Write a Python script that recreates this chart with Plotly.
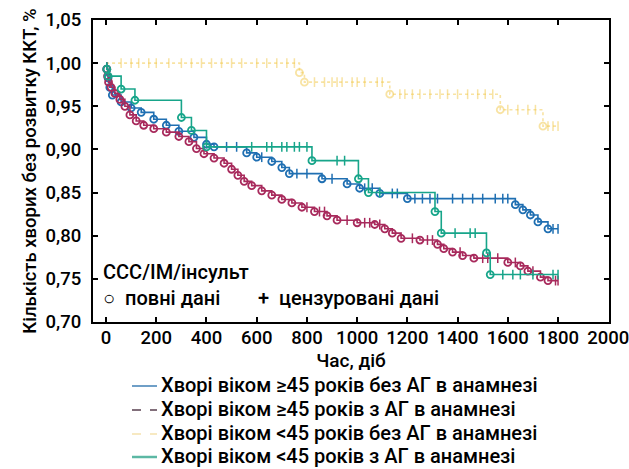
import plotly.graph_objects as go

# ---------------- data ----------------
# Kaplan–Meier estimates: event times (days) and survival after each event,
# plus censoring times, for four patient groups.
grp_names = [
    "Хворі віком ≥45 років без АГ в анамнезі",
    "Хворі віком ≥45 років з АГ в анамнезі",
    "Хворі віком <45 років без АГ в анамнезі",
    "Хворі віком <45 років з АГ в анамнезі",
]

blue_evt_t = [3, 8, 15, 25, 60, 100, 140, 190, 240, 290, 350, 400, 430, 560, 600,
              660, 700, 730, 860, 960, 1010, 1090, 1200, 1630, 1660, 1690, 1720, 1760]
blue_evt_s = [0.993, 0.983, 0.972, 0.963, 0.955, 0.948, 0.943, 0.935, 0.928, 0.921,
              0.914, 0.906, 0.903, 0.896, 0.891, 0.886, 0.879, 0.872, 0.866, 0.860,
              0.855, 0.849, 0.843, 0.836, 0.830, 0.824, 0.816, 0.808]
blue_cens_t = [480, 520, 620, 760, 800, 900, 1030, 1060, 1140, 1160, 1230, 1260, 1290,
               1320, 1380, 1420, 1460, 1500, 1550, 1580, 1600, 1780, 1800]

red_evt_t = [3, 6, 10, 20, 35, 55, 75, 95, 120, 150, 190, 240, 290, 330, 360, 390, 430,
             470, 500, 525, 550, 580, 620, 660, 700, 740, 780, 830, 880, 920, 1000, 1070,
             1110, 1140, 1175, 1250, 1320, 1345, 1380, 1420, 1465, 1600, 1650, 1680,
             1730, 1760]
red_evt_s = [0.993, 0.985, 0.978, 0.972, 0.965, 0.958, 0.950, 0.940, 0.933, 0.928,
             0.924, 0.920, 0.915, 0.909, 0.901, 0.895, 0.890, 0.884, 0.877, 0.870,
             0.863, 0.858, 0.852, 0.847, 0.842, 0.838, 0.833, 0.828, 0.823, 0.818,
             0.815, 0.813, 0.808, 0.803, 0.797, 0.795, 0.790, 0.785, 0.781, 0.777,
             0.774, 0.769, 0.765, 0.759, 0.752, 0.748]
red_cens_t = [800, 850, 870, 960, 1030, 1050, 1090, 1220, 1280, 1300, 1410, 1500, 1520,
              1560, 1630, 1700, 1790, 1800]

yel_evt_t = [770, 790, 1130, 1570, 1740]
yel_evt_s = [0.989, 0.978, 0.964, 0.946, 0.927]
yel_cens_t = [60, 100, 130, 170, 200, 250, 300, 340, 380, 420, 460, 500, 540, 600, 640,
              680, 720, 750, 830, 870, 900, 920, 940, 980, 1000, 1030, 1080, 1100, 1170,
              1190, 1220, 1250, 1290, 1330, 1360, 1400, 1440, 1480, 1510, 1540, 1600,
              1640, 1680, 1710, 1760, 1780, 1800]

teal_evt_t = [3, 8, 60, 115, 300, 340, 400, 820, 1005, 1045, 1310, 1335, 1515, 1530]
teal_evt_s = [0.993, 0.985, 0.970, 0.957, 0.937, 0.922, 0.903, 0.887, 0.866, 0.850,
              0.828, 0.803, 0.780, 0.755]
teal_cens_t = [580, 640, 660, 700, 720, 750, 770, 800, 920, 950, 1090, 1390, 1450, 1470,
               1580, 1620, 1650, 1700, 1780, 1800]

follow_up_end = 1800

x_ticks = [0, 200, 400, 600, 800, 1000, 1200, 1400, 1600, 1800, 2000]
y_ticks = [0.70, 0.75, 0.80, 0.85, 0.90, 0.95, 1.00, 1.05]
y_tick_text = ["0,70", "0,75", "0,80", "0,85", "0,90", "0,95", "1,00", "1,05"]

# ---------------- styling ----------------
FONT = "Roboto"
W, H = 629, 469
M = dict(l=93, r=20, t=20, b=147)

groups = [
    dict(t=blue_evt_t, s=blue_evt_s, c=blue_cens_t, color="#1f6fb2", dash="solid", op=1.0),
    dict(t=red_evt_t, s=red_evt_s, c=red_cens_t, color="#a82a5c", dash="solid", op=1.0),
    dict(t=yel_evt_t, s=yel_evt_s, c=yel_cens_t, color="#f3c94a", dash="dot", op=0.5),
    dict(t=teal_evt_t, s=teal_evt_s, c=teal_cens_t, color="#17a58a", dash="solid", op=1.0),
]


def surv_at(t_list, s_list, t):
    val = 1.0
    for ti, si in zip(t_list, s_list):
        if ti <= t:
            val = si
    return val


fig = go.Figure()
# draw yellow first so the others sit above it
for g in [groups[2], groups[0], groups[1], groups[3]]:
    xs = [0] + g["t"] + [follow_up_end]
    ys = [1.0] + g["s"] + [g["s"][-1]]
    fig.add_trace(go.Scatter(
        x=xs, y=ys, mode="lines", line=dict(color=g["color"], width=1.6,
                                            shape="hv", dash=g["dash"]),
        opacity=g["op"], showlegend=False, hoverinfo="skip"))
    fig.add_trace(go.Scatter(
        x=g["t"], y=g["s"], mode="markers", opacity=g["op"],
        marker=dict(symbol="circle-open", size=7, color=g["color"],
                    line=dict(width=1.8, color=g["color"])),
        showlegend=False, hoverinfo="skip"))
    fig.add_trace(go.Scatter(
        x=g["c"], y=[surv_at(g["t"], g["s"], c) for c in g["c"]], mode="markers",
        opacity=g["op"],
        marker=dict(symbol="line-ns-open", size=7, color=g["color"],
                    line=dict(width=1.5, color=g["color"])),
        showlegend=False, hoverinfo="skip"))

axis_common = dict(showline=True, linecolor="black", linewidth=2, mirror="ticks",
                   ticks="inside", ticklen=5, tickwidth=1.5, tickcolor="black",
                   showgrid=False, zeroline=False, ticklabeloverflow="allow",
                   automargin=False,
                   tickfont=dict(family=FONT, size=18.5, color="black", weight=500))

fig.update_xaxes(range=[-52, 2003], tickvals=x_ticks,
                 ticktext=[str(v) for v in x_ticks], ticklabelstandoff=-2,
                 title=dict(text="Час, діб", standoff=0,
                            font=dict(family=FONT, size=19, color="black", weight=500)),
                 **axis_common)
fig.update_yaxes(range=[0.70, 1.05], tickvals=y_ticks, ticktext=y_tick_text,
                 ticklabelstandoff=6,
                 title=dict(text="Кількість хворих без розвитку ККТ, %", standoff=4,
                            font=dict(family=FONT, size=18.5, color="black", weight=500)),
                 **axis_common)

plot_h = H - M["t"] - M["b"]
plot_w = W - M["l"] - M["r"]


def py(ypx):
    return (H - M["b"] - ypx) / plot_h


def px(xpx):
    return (xpx - M["l"]) / plot_w


annos = []
shapes = []
key_font = dict(family=FONT, size=20, color="black", weight=500)
# in-plot key for event/censor markers
annos.append(dict(text="ССС/ІМ/інсульт", x=px(101), y=py(272), xref="paper", yref="paper",
                  xanchor="left", yanchor="middle", showarrow=False, font=key_font))
annos.append(dict(text="○  повні дані", x=px(101), y=py(298), xref="paper", yref="paper",
                  xanchor="left", yanchor="middle", showarrow=False, font=key_font))
annos.append(dict(text="+  цензуровані дані", x=px(256), y=py(298), xref="paper",
                  yref="paper", xanchor="left", yanchor="middle", showarrow=False,
                  font=key_font))

# legend below the plot
leg_y = [385, 409, 433, 456]
leg_style = [
    dict(color="#3f7fb5", dash="solid", width=1.5, op=1.0),
    dict(color="#5a4050", dash="dash", width=1.5, op=1.0),
    dict(color="#f3dc9a", dash="dash", width=1.5, op=0.8),
    dict(color="#5cb8a4", dash="solid", width=2.5, op=1.0),
]
for name, yy, st in zip(grp_names, leg_y, leg_style):
    shapes.append(dict(type="line", xref="paper", yref="paper",
                       x0=px(132), x1=px(157), y0=py(yy + 1), y1=py(yy + 1),
                       line=dict(color=st["color"], width=st["width"], dash=st["dash"]),
                       opacity=st["op"]))
    annos.append(dict(text=name, x=px(159), y=py(yy), xref="paper", yref="paper",
                      xanchor="left", yanchor="middle", showarrow=False,
                      font=dict(family=FONT, size=20, color="black", weight=500)))

fig.update_layout(width=W, height=H, margin=M, plot_bgcolor="white",
                  paper_bgcolor="white", annotations=annos, shapes=shapes,
                  showlegend=False)

fig.write_html("out.html")
